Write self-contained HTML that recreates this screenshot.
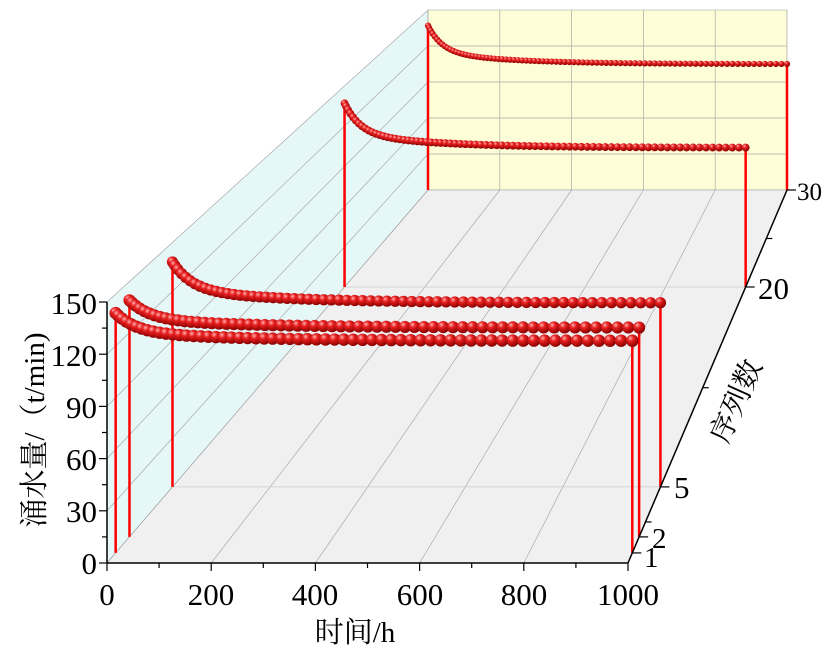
<!DOCTYPE html>
<html><head><meta charset="utf-8"><style>
html,body{margin:0;padding:0;background:#fff;}
svg{display:block;font-family:"Liberation Serif","Noto Serif CJK SC",serif;}
</style></head><body>
<svg id="s" width="827" height="656" viewBox="0 0 827 656" xmlns="http://www.w3.org/2000/svg">
<defs>
<radialGradient id="g" cx="0.35" cy="0.3" r="0.7">
<stop offset="0" stop-color="#ffb0b0"/><stop offset="0.35" stop-color="#e82020"/><stop offset="1" stop-color="#8a0000"/>
</radialGradient>
</defs>
<polygon points="107,563 107,302 428,10 428,190" fill="#e6f7f7" stroke="#999" stroke-width="0.6"/>
<polygon points="428,10 787,10 787,190 428,190" fill="#fdfdd8" stroke="#999" stroke-width="0.6"/>
<polygon points="107,563 628,563 787,190 428,190" fill="#f0f0f0" stroke="#999" stroke-width="0.6"/>
<g id="grid" stroke="#aaa" stroke-width="0.7" fill="none"></g>
<g id="ser"></g>
<g stroke="#000" stroke-width="1.5" fill="none">
<line x1="107" y1="563" x2="107" y2="302"/>
<line x1="107" y1="563" x2="628" y2="563"/>
<line x1="628" y1="563" x2="787" y2="190"/>
</g>
<g id="ax" stroke="#000" stroke-width="1.2"></g>
<g font-size="31" fill="#000">
<text x="97" y="574" text-anchor="end">0</text>
<text x="97" y="522" text-anchor="end">30</text>
<text x="97" y="470" text-anchor="end">60</text>
<text x="97" y="418" text-anchor="end">90</text>
<text x="97" y="366" text-anchor="end">120</text>
<text x="97" y="314" text-anchor="end">150</text>
<text x="107" y="605" text-anchor="middle">0</text>
<text x="211" y="605" text-anchor="middle">200</text>
<text x="315" y="605" text-anchor="middle">400</text>
<text x="420" y="605" text-anchor="middle">600</text>
<text x="524" y="605" text-anchor="middle">800</text>
<text x="628" y="605" text-anchor="middle">1000</text>
<text x="644" y="567" font-size="29">1</text>
<text x="652" y="548" font-size="29">2</text>
<text x="674" y="498">5</text>
<text x="758" y="299">20</text>
<text x="797" y="200" font-size="25">30</text>
<text x="355" y="642" text-anchor="middle" font-size="29">时间/h</text>
<text transform="translate(44,430) rotate(-90)" text-anchor="middle" font-size="29">涌水量/（t/min)</text>
<text transform="translate(745,405) rotate(-66)" text-anchor="middle" font-size="29">序列数</text>
</g>
</svg>
<script>
var NS="http://www.w3.org/2000/svg";
function el(p,n,a){var e=document.createElementNS(NS,n);for(var k in a)e.setAttribute(k,a[k]);p.appendChild(e);return e;}
function Y(t){return 563-373*t;}function L(t){return 107+321*t;}function R(t){return 628+159*t;}function H(t){return 261-81*t;}
function P(t,time,v){var x=L(t)+(R(t)-L(t))*time/1000;return [x,Y(t)-v/150*H(t)];}
var g=document.getElementById('grid');
[200,400,600,800].forEach(function(tm){var a=P(0,tm,0),b=P(1,tm,0),c=P(1,tm,150);
el(g,'line',{x1:a[0],y1:a[1],x2:b[0],y2:b[1]});el(g,'line',{x1:b[0],y1:b[1],x2:c[0],y2:c[1]});});
[30,60,90,120].forEach(function(v){var a=P(0,0,v),b=P(1,0,v),c=P(1,1000,v);
el(g,'line',{x1:a[0],y1:a[1],x2:b[0],y2:b[1]});el(g,'line',{x1:b[0],y1:b[1],x2:c[0],y2:c[1]});});
[0.204,0.74].forEach(function(t){el(g,'line',{x1:L(t),y1:Y(t),x2:R(t),y2:Y(t),stroke:'#ccc'});});
var ax=document.getElementById('ax');
for(var v=0;v<=150;v+=15){var y=563-v/150*261;el(ax,'line',{x1:v%30?102:99,y1:y,x2:107,y2:y});}
for(var tm=0;tm<=1000;tm+=100){var x=107+521*tm/1000;el(ax,'line',{x1:x,y1:563,x2:x,y2:tm%200?568:571});}
[[0.027,1],[0.07,1],[0.204,1],[0.74,1],[1,1],[0.47,0],[0.87,0],[0.11,0]].forEach(function(d){var t=d[0];el(ax,'line',{x1:R(t),y1:Y(t),x2:R(t)+(d[1]?9:6),y2:Y(t)});});
var S=[[1,137,105],[0.74,137,104],[0.204,138,113],[0.07,139,123],[0.027,139,123]];
var sg=document.getElementById('ser');
S.forEach(function(s){var t=s[0],pk=s[1],en=s[2],N=Math.round(85-25*(1-t));
var r=6.3-3.2*t;var pts=[];
for(var i=0;i<N;i++){var tm=1000*Math.pow(i/(N-1),1.3);
var val=en+(pk-en)*(0.7*Math.exp(-tm/40)+0.3*(1-tm/1000)*Math.exp(-tm/300));pts.push(P(t,tm,val));}
var a=P(t,0,0),b=P(t,1000,0);
el(sg,'line',{x1:a[0],y1:a[1],x2:pts[0][0],y2:pts[0][1],stroke:'#f00','stroke-width':2.5});
el(sg,'line',{x1:b[0],y1:b[1],x2:pts[N-1][0],y2:pts[N-1][1],stroke:'#f00','stroke-width':2.5});
el(sg,'polyline',{points:pts.map(function(p){return p.join(',')}).join(' '),fill:'none',stroke:'#e00','stroke-width':2});
pts.forEach(function(p){el(sg,'circle',{cx:p[0],cy:p[1],r:r,fill:'url(#g)'});});
});
</script>
</body></html>
